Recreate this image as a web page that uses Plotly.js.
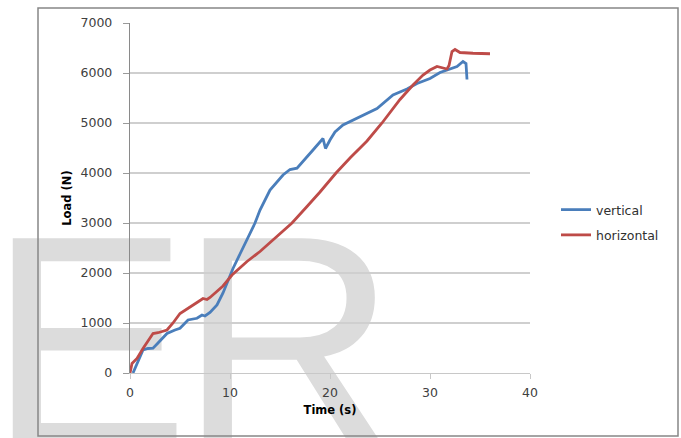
<!DOCTYPE html>
<html>
<head>
<meta charset="utf-8">
<script src="https://cdn.plot.ly/plotly-3.0.1.min.js"></script>
<style>
  html, body { margin: 0; padding: 0; background: #ffffff; }
  #wrap { position: relative; width: 681px; height: 438px; overflow: hidden; }
  #wm { position: absolute; left: 0; top: 0; z-index: 0; }
  #chart { position: absolute; left: 0; top: 0; width: 681px; height: 438px; z-index: 1; }
</style>
</head>
<body>
<div id="wrap">
  <svg id="wm" width="681" height="438" xmlns="http://www.w3.org/2000/svg">
    <text x="-12" y="446" font-family="Liberation Sans, Arial, sans-serif" font-size="302" fill="#dcdcdc">E</text>
    <text x="179" y="446" font-family="Liberation Sans, Arial, sans-serif" font-size="302" fill="#dcdcdc">R</text>
  </svg>
  <div id="chart"></div>
</div>
<script>
// Data
const verticalTime = [0.3, 0.7, 1.3, 1.8, 2.3, 2.8, 3.7, 4.5, 5.0, 5.8, 6.7, 7.2, 7.5, 8.0, 8.7, 9.3, 9.8, 10.3, 11.0, 12.0, 12.5, 13.0, 14.0, 15.3, 16.0, 16.7, 17.0, 18.0, 18.3, 19.3, 19.55, 20.0, 20.5, 21.3, 23.0, 24.7, 26.3, 27.7, 28.7, 30.0, 31.0, 32.0, 32.7, 33.3, 33.6, 33.7];
const verticalLoad = [0, 200, 460, 490, 495, 600, 790, 860, 895, 1060, 1095, 1160, 1140, 1210, 1360, 1600, 1860, 2090, 2380, 2790, 3000, 3260, 3660, 3960, 4070, 4095, 4160, 4390, 4460, 4690, 4490, 4660, 4820, 4960, 5130, 5290, 5560, 5680, 5790, 5890, 6010, 6090, 6130, 6230, 6190, 5870];

const horizontalTime = [0.0, 0.2, 0.7, 1.3, 2.3, 2.8, 3.7, 4.3, 5.0, 6.0, 6.7, 7.3, 7.7, 8.0, 8.7, 9.3, 10.2, 11.7, 13.0, 14.3, 15.3, 16.2, 17.7, 19.0, 20.6, 22.0, 23.7, 25.2, 27.0, 28.3, 29.3, 30.0, 30.7, 31.2, 31.7, 31.9, 32.2, 32.5, 33.0, 34.3, 36.0];
const horizontalLoad = [0, 190, 290, 490, 790, 805, 860, 1000, 1190, 1330, 1410, 1490, 1470, 1510, 1630, 1740, 1960, 2230, 2430, 2660, 2830, 3000, 3330, 3620, 4000, 4300, 4640, 5000, 5470, 5760, 5960, 6060, 6130, 6110, 6080, 6150, 6430, 6470, 6410, 6395, 6385];

const xTickValues = [0, 10, 20, 30, 40];
const yTickValues = [0, 1000, 2000, 3000, 4000, 5000, 6000, 7000];
const seriesNames = ["vertical", "horizontal"];
const xTitle = "Time (s)";
const yTitle = "Load (N)";

const traces = [
  {
    x: verticalTime, y: verticalLoad, name: seriesNames[0], type: "scatter", mode: "lines",
    line: { color: "#4a7ebb", width: 2.8 }, legendgroup: "a"
  },
  {
    x: horizontalTime, y: horizontalLoad, name: seriesNames[1], type: "scatter", mode: "lines",
    line: { color: "#be4b48", width: 2.8 }, legendgroup: "b"
  }
];

const tickFont = { family: "DejaVu Sans, sans-serif", size: 12.5, color: "#404040" };

const layout = {
  width: 681, height: 438,
  margin: { l: 130, r: 151, t: 23, b: 65 },
  paper_bgcolor: "rgba(0,0,0,0)",
  plot_bgcolor: "rgba(0,0,0,0)",
  showlegend: true,
  legend: {
    x: 1.065, xanchor: "left", y: 0.43, yanchor: "middle",
    font: { family: "DejaVu Sans, sans-serif", size: 12.5, color: "#303030" },
    bgcolor: "rgba(0,0,0,0)", traceorder: "grouped", tracegroupgap: 6
  },
  xaxis: {
    range: [0, 40], tickvals: xTickValues, ticktext: xTickValues.map(String),
    showgrid: false, zeroline: false,
    showline: true, linecolor: "#c8c8c8", linewidth: 1.3,
    ticks: "outside", ticklen: 5, tickcolor: "#c8c8c8",
    tickfont: tickFont, ticklabelstandoff: 3,
    title: { text: "<b>" + xTitle + "</b>", font: { family: "DejaVu Sans, sans-serif", size: 11.5, color: "#000" }, standoff: 6 },
    fixedrange: true
  },
  yaxis: {
    range: [0, 7000], tickvals: yTickValues, ticktext: yTickValues.map(String),
    showgrid: true, gridcolor: "#cfcfcf", gridwidth: 1.3, zeroline: false,
    showline: true, linecolor: "#8a8a8a", linewidth: 1.2,
    ticks: "outside", ticklen: 6, tickcolor: "#9a9a9a",
    tickfont: tickFont, ticklabelstandoff: 8,
    title: { text: "<b>" + yTitle + "</b>", font: { family: "DejaVu Sans, sans-serif", size: 11.5, color: "#000" }, standoff: 6 },
    fixedrange: true
  },
  shapes: [
    {
      type: "rect", xref: "paper", yref: "paper",
      x0: (38 - 130) / 400, x1: (678 - 130) / 400,
      y0: (373 - 436) / 350, y1: (373 - 8) / 350,
      line: { color: "#868686", width: 1.5 }, fillcolor: "rgba(0,0,0,0)", layer: "below"
    }
  ]
};

Plotly.newPlot("chart", traces, layout, { displayModeBar: false, staticPlot: true });
</script>
</body>
</html>
